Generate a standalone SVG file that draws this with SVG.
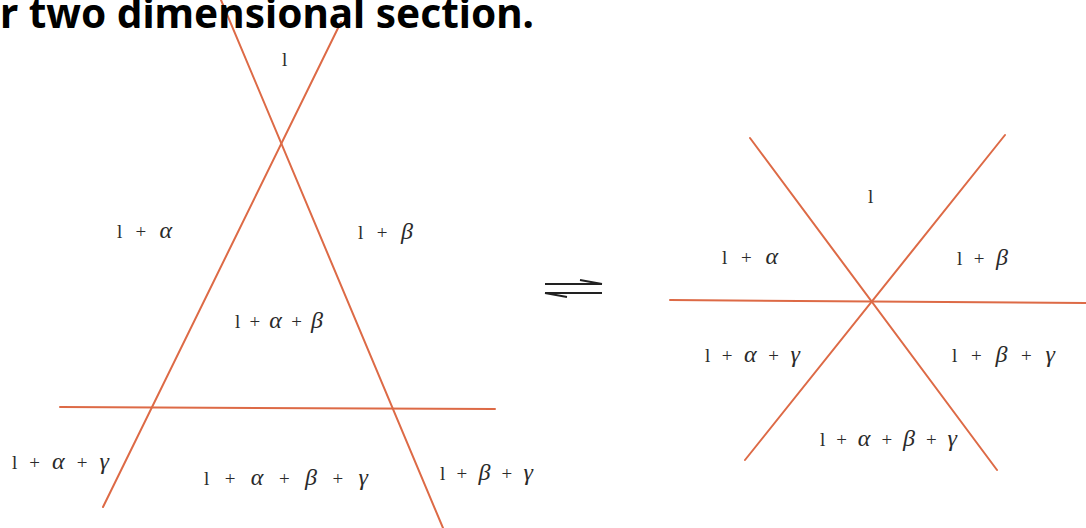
<svg xmlns="http://www.w3.org/2000/svg" width="1086" height="528" viewBox="0 0 1086 528">
<style>
.bd{stroke:#dd6a46;stroke-width:2;fill:none;stroke-linecap:round}
.lb{font-family:"Liberation Serif",serif;font-size:19px;fill:#2a2a2a}
.g{font-style:italic;font-size:24px}
.arr{stroke:#222;stroke-width:2;fill:none}
.title{font-family:"Noto Sans","Open Sans",sans-serif;font-weight:bold;font-size:42px;fill:#000}
</style>
<rect width="1086" height="528" fill="#fff"/>
<g id="connectors">
<line class="bd" x1="221" y1="0" x2="443" y2="528"/>
<line class="bd" x1="341" y1="22" x2="103" y2="507"/>
<line class="bd" x1="60" y1="407" x2="495" y2="409"/>
<line class="bd" x1="750" y1="138" x2="997" y2="470"/>
<line class="bd" x1="1005" y1="135" x2="745" y2="460"/>
<line class="bd" x1="670" y1="300" x2="1086" y2="303"/>
</g>
<text class="title" x="0" y="28" textLength="534" lengthAdjust="spacingAndGlyphs">r two dimensional section.</text>
<g id="eq">
<path class="arr" d="M545,284 H602 M580,280 L602,284"/>
<path class="arr" d="M545,293 H602 M545,293 L567,297"/>
</g>
<g id="L-l"><text class="lb" x="282" y="66">l</text></g>
<g id="L-la"><text class="lb" x="117" y="238" textLength="55" lengthAdjust="spacing">l + <tspan class="g">α</tspan></text></g>
<g id="L-lb"><text class="lb" x="358" y="239" textLength="55" lengthAdjust="spacing">l + <tspan class="g">β</tspan></text></g>
<g id="L-lab"><text class="lb" x="235" y="328" textLength="88" lengthAdjust="spacing">l + <tspan class="g">α</tspan> + <tspan class="g">β</tspan></text></g>
<g id="L-lag"><text class="lb" x="12" y="469" textLength="97" lengthAdjust="spacing">l + <tspan class="g">α</tspan> + <tspan class="g">γ</tspan></text></g>
<g id="L-labg"><text class="lb" x="204" y="485" textLength="164" lengthAdjust="spacing">l + <tspan class="g">α</tspan> + <tspan class="g">β</tspan> + <tspan class="g">γ</tspan></text></g>
<g id="L-lbg"><text class="lb" x="440" y="480" textLength="93" lengthAdjust="spacing">l + <tspan class="g">β</tspan> + <tspan class="g">γ</tspan></text></g>
<g id="R-l"><text class="lb" x="868" y="203">l</text></g>
<g id="R-la"><text class="lb" x="722" y="264" textLength="56" lengthAdjust="spacing">l + <tspan class="g">α</tspan></text></g>
<g id="R-lb"><text class="lb" x="957" y="265" textLength="51" lengthAdjust="spacing">l + <tspan class="g">β</tspan></text></g>
<g id="R-lag"><text class="lb" x="705" y="362" textLength="95" lengthAdjust="spacing">l + <tspan class="g">α</tspan> + <tspan class="g">γ</tspan></text></g>
<g id="R-lbg"><text class="lb" x="952" y="362" textLength="103" lengthAdjust="spacing">l + <tspan class="g">β</tspan> + <tspan class="g">γ</tspan></text></g>
<g id="R-labg"><text class="lb" x="820" y="446" textLength="137" lengthAdjust="spacing">l + <tspan class="g">α</tspan> + <tspan class="g">β</tspan> + <tspan class="g">γ</tspan></text></g>
</svg>
